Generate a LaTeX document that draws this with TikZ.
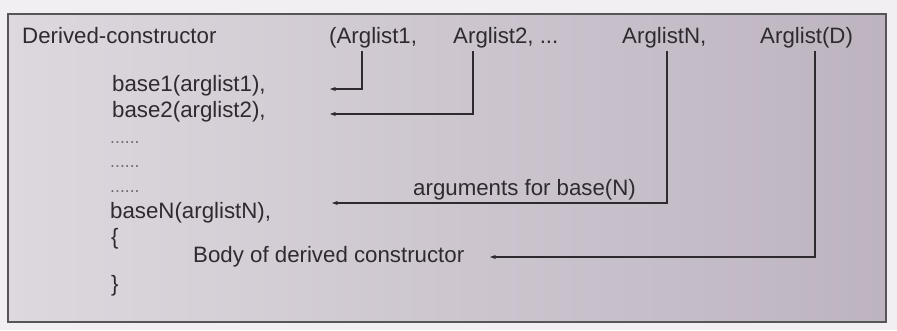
\documentclass[tikz,border=0pt]{standalone}
\usepackage{fontspec}
\setmainfont{Liberation Sans}
\usetikzlibrary{arrows.meta}

\definecolor{inkcol}{HTML}{2F2A2F}
\definecolor{dotcol}{HTML}{6E676F}
\definecolor{paperleft}{HTML}{DDD8DE}
\definecolor{paperright}{HTML}{BDB4C0}

\tikzset{
  codetext/.style={anchor=base west, inner xsep=0pt, inner ysep=3pt, text=inkcol,
    font=\fontsize{19}{23}\selectfont},
  dotrow/.style={anchor=base west, inner sep=0pt, text=dotcol,
    font=\fontsize{15}{18}\selectfont},
  argline/.style={draw=inkcol, line width=0.9pt, -{Stealth[length=5pt,width=3.6pt]}}
}

\begin{document}
\begin{tikzpicture}[x=0.03cm, y=-0.03cm]
	\useasboundingbox (0,0) rectangle (897,330);
	\fill[white!60!paperleft] (0,0) rectangle (897,330);
	\shade[left color=paperleft, right color=paperright] (8,14) rectangle (886,322);
	\draw[inkcol!80, line width=0.9pt] (8,14) rectangle (886,322);
	% header line
	\node[codetext] (hdr) at (22,43) {Derived-constructor};
	\node[codetext] (argone) at (329,43) {(Arglist1,};
	\node[codetext] (argtwo) at (453,43) {Arglist2, ...};
	\node[codetext] (argn) at (622,43) {ArglistN,};
	\node[codetext] (argd) at (760,43) {Arglist(D)};
	% base calls and body
	\node[codetext] (baseone) at (112,91) {base1(arglist1),};
	\node[codetext] (basetwo) at (112,117) {base2(arglist2),};
	\node[dotrow] (dotsa) at (110,143) {......};
	\node[dotrow] (dotsb) at (110,167) {......};
	\node[dotrow] (dotsc) at (110,192) {......};
	\node[codetext] (basen) at (110,218) {baseN(arglistN),};
	\node[codetext] (lbrace) at (111,244) {\{};
	\node[codetext] (body) at (193,262) {Body of derived constructor};
	\node[codetext] (rbrace) at (111,291) {\}};
	\node[codetext] (argnote) at (413,195) {arguments for base(N)};
	% arrow ends
	\coordinate (tipone) at (330,89);
	\coordinate (tiptwo) at (330,114);
	\coordinate (tipn) at (332,203);
	\coordinate (tipd) at (490,257);
	\draw[argline] (argone.south -| 362,0) |- (tipone);
	\draw[argline] (argtwo.south -| 473,0) |- (tiptwo);
	\draw[argline] (argn.south -| 667,0) |- (tipn);
	\draw[argline] (argd.south -| 815,0) |- (tipd);
\end{tikzpicture}
\end{document}
